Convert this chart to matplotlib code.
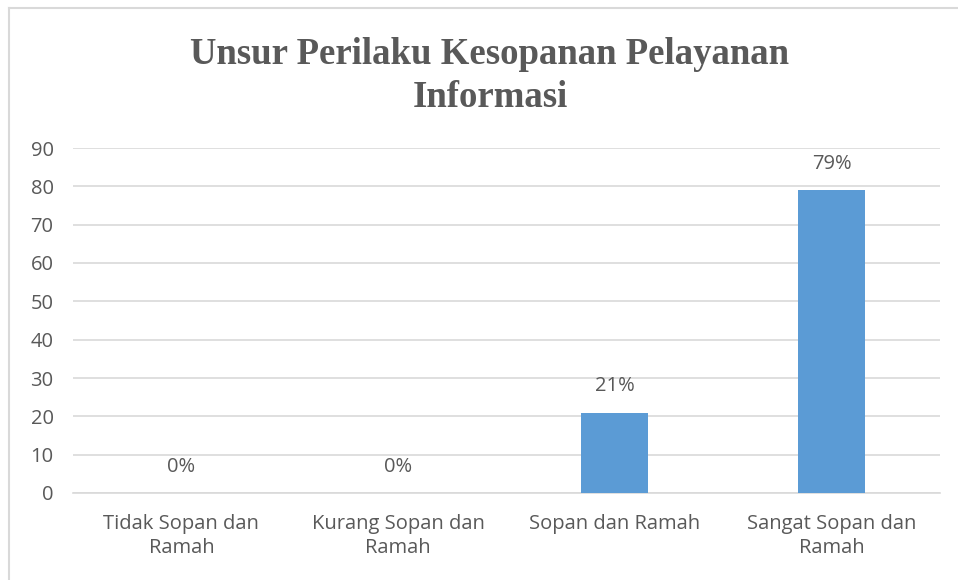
import matplotlib.pyplot as plt
from matplotlib.lines import Line2D

categories = ["Tidak Sopan dan\nRamah", "Kurang Sopan dan\nRamah", "Sopan dan Ramah", "Sangat Sopan dan\nRamah"]
values = [0, 0, 21, 79]
labels = ["0%", "0%", "21%", "79%"]
yticks = [0, 10, 20, 30, 40, 50, 60, 70, 80, 90]

textColor = "#595959"
gridColor = "#D9D9D9"
barColor = "#5B9BD5"

plt.rcParams['font.family'] = ['Open Sans', 'DejaVu Sans']

fig = plt.figure(figsize=(9.58, 5.80), dpi=100)
fig.patch.set_facecolor("white")

# chart border: only top and left edges show, the rest is cropped off
borderTop = 1 - 8 / 580
borderLeft = 9 / 958
fig.add_artist(Line2D([borderLeft, 1.0], [borderTop, borderTop], transform=fig.transFigure,
                      color=gridColor, linewidth=1.5))
fig.add_artist(Line2D([borderLeft, borderLeft], [0.0, borderTop], transform=fig.transFigure,
                      color=gridColor, linewidth=1.5))

ax = fig.add_axes([73 / 958, 1 - 493 / 580, (940 - 73) / 958, (493 - 148) / 580])

x = list(range(len(categories)))
ax.bar(x, values, width=0.31, color=barColor, zorder=3)

for xi, v, lab in zip(x, values, labels):
  ax.annotate(lab, (xi, v), xytext=(0, 19), textcoords="offset points",
              ha="center", va="center", fontsize=14.5, color=textColor)

ax.set_xlim(-0.5, len(categories) - 0.5)
ax.set_ylim(0, 90)
ax.set_yticks(yticks)
ax.set_xticks(x)
ax.set_xticklabels(categories, fontsize=14.5, color=textColor, linespacing=1.3)
ax.tick_params(axis="y", labelsize=14.5, labelcolor=textColor, length=0, pad=14)
ax.tick_params(axis="x", length=0, pad=15)

ax.grid(axis="y", color=gridColor, linewidth=1.2, zorder=0)
for side in ["left", "right", "top"]:
  ax.spines[side].set_visible(False)
ax.spines["bottom"].set_color(gridColor)
ax.spines["bottom"].set_linewidth(1.2)

fig.text(490 / 958, 1 - 76 / 580, "Unsur Perilaku Kesopanan Pelayanan\nInformasi", ha="center", va="center",
         fontsize=26.5, fontweight="bold", family="Liberation Serif", color=textColor, linespacing=1.3)

fig.savefig("out.png", dpi=100)
